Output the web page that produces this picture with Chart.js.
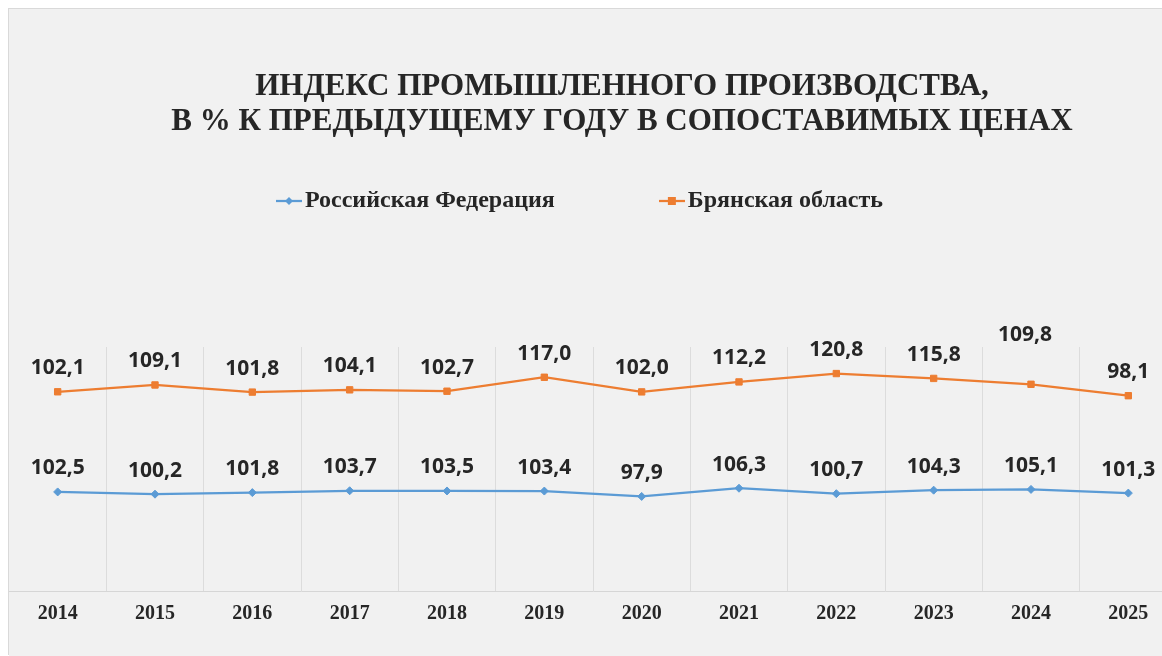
<!DOCTYPE html>
<html lang="ru">
<head>
<meta charset="utf-8">
<title>Индекс промышленного производства</title>
<script src="https://cdn.jsdelivr.net/npm/chart.js@4.4.1/dist/chart.umd.min.js"></script>
<style>
    html, body { margin: 0; padding: 0; background: #ffffff; overflow: hidden; }
    .chart-card {
        position: absolute;
        left: 9px;
        top: 9px;
        width: 1226px;
        height: 647px;
        background: #f1f1f1;
        box-shadow: -1px -1px 0 #d9d9d9;
    }
</style>
</head>
<body>
<div class="chart-card">
    <canvas id="industryChart" width="1226" height="647"></canvas>
</div>
<script>
// --- data ---
const years = ['2014', '2015', '2016', '2017', '2018', '2019', '2020', '2021', '2022', '2023', '2024', '2025'];
const rfValues = [102.5, 100.2, 101.8, 103.7, 103.5, 103.4, 97.9, 106.3, 100.7, 104.3, 105.1, 101.3];
const bryanskValues = [102.1, 109.1, 101.8, 104.1, 102.7, 117.0, 102.0, 112.2, 120.8, 115.8, 109.8, 98.1];
const seriesNames = ['Российская Федерация', 'Брянская область'];
const titleLines = ['ИНДЕКС ПРОМЫШЛЕННОГО ПРОИЗВОДСТВА,', 'В % К ПРЕДЫДУЩЕМУ ГОДУ В СОПОСТАВИМЫХ ЦЕНАХ'];

const BLUE = '#5b9bd5';
const ORANGE = '#ed7d31';
const TEXT = '#262626';
const SERIF = '"Liberation Serif", "Times New Roman", serif';

// label moved by hand in the original (dataset:index -> dx, dy)
const labelNudge = { '1:10': [-6, -26] };

// small line+marker icon for the legend
function legendIcon(color, marker) {
    const c = document.createElement('canvas');
    c.width = 26;
    c.height = 12;
    const g = c.getContext('2d');
    g.strokeStyle = color;
    g.fillStyle = color;
    g.lineWidth = 2.25;
    g.beginPath();
    g.moveTo(0, 6);
    g.lineTo(26, 6);
    g.stroke();
    g.beginPath();
    if (marker === 'square') {
        g.rect(9, 2, 8, 8);
    } else {
        g.moveTo(13, 2); g.lineTo(17, 6); g.lineTo(13, 10); g.lineTo(9, 6);
        g.closePath();
    }
    g.fill();
    return c;
}
const legendIcons = [legendIcon(BLUE, 'diamond'), legendIcon(ORANGE, 'square')];

// values above the points
const valueLabels = {
    id: 'valueLabels',
    afterDatasetsDraw(chart) {
        const ctx = chart.ctx;
        ctx.save();
        ctx.font = 'bold 21px "Open Sans", sans-serif';
        ctx.fillStyle = TEXT;
        ctx.textAlign = 'center';
        ctx.textBaseline = 'middle';
        chart.data.datasets.forEach((ds, di) => {
            chart.getDatasetMeta(di).data.forEach((pt, i) => {
                const n = labelNudge[di + ':' + i] || [0, 0];
                const txt = ds.data[i].toFixed(1).replace('.', ',');
                ctx.fillText(txt, pt.x + n[0], pt.y - 23.5 + n[1]);
            });
        });
        ctx.restore();
    }
};

// legend sits higher and further left than chart.js would put it
const legendPlace = {
    id: 'legendPlace',
    afterLayout(chart) {
        const lg = chart.legend;
        const pad = lg.options.labels.padding;
        lg.left = 276 - pad;
        lg.top = 192 - pad - 12;
    }
};

const ctx = document.getElementById('industryChart').getContext('2d');
new Chart(ctx, {
    type: 'line',
    data: {
        labels: years,
        datasets: [{
            label: seriesNames[0],
            data: rfValues,
            yAxisID: 'y',
            borderColor: BLUE,
            backgroundColor: BLUE,
            borderWidth: 2.25,
            pointStyle: 'rectRot',
            pointRadius: 4,
            pointBorderWidth: 1,
            tension: 0
        }, {
            label: seriesNames[1],
            data: bryanskValues,
            yAxisID: 'y2',
            borderColor: ORANGE,
            backgroundColor: ORANGE,
            borderWidth: 2.25,
            pointStyle: 'rect',
            pointRadius: 4.5,
            pointBorderWidth: 1,
            tension: 0
        }]
    },
    options: {
        responsive: false,
        animation: false,
        layout: { autoPadding: false, padding: { top: 0, left: 0, right: 0, bottom: 19 } },
        plugins: {
            title: {
                display: true,
                text: titleLines,
                color: TEXT,
                font: { family: SERIF, size: 31, weight: 'bold', lineHeight: '35px' },
                padding: { top: 60, bottom: 61 }
            },
            legend: {
                display: true,
                align: 'start',
                labels: {
                    color: TEXT,
                    font: { family: SERIF, size: 24, weight: 'bold' },
                    usePointStyle: true,
                    pointStyleWidth: 8,
                    padding: 113,
                    generateLabels: (chart) => chart.data.datasets.map((ds, i) => ({
                        text: ds.label,
                        datasetIndex: i,
                        pointStyle: legendIcons[i],
                        fontColor: TEXT,
                        hidden: false,
                        lineWidth: 0
                    }))
                }
            },
            tooltip: { enabled: false }
        },
        scales: {
            x: {
                type: 'category',
                offset: true,
                grid: { offset: true, drawTicks: false, color: '#dcdcdc', lineWidth: 1 },
                border: { color: '#d6d6d6', width: 1 },
                ticks: {
                    color: TEXT,
                    font: { family: SERIF, size: 20, weight: 'bold' },
                    padding: 11,
                    maxRotation: 0,
                    autoSkip: false
                }
            },
            y: {
                display: false,
                min: 1,
                max: 251
            },
            y2: {
                position: 'right',
                display: true,
                min: -102,
                max: 148,
                grid: { display: false },
                border: { display: false },
                ticks: { display: false },
                afterFit: (scale) => { scale.width = 58; }
            }
        }
    },
    plugins: [valueLabels, legendPlace]
});
</script>
</body>
</html>
